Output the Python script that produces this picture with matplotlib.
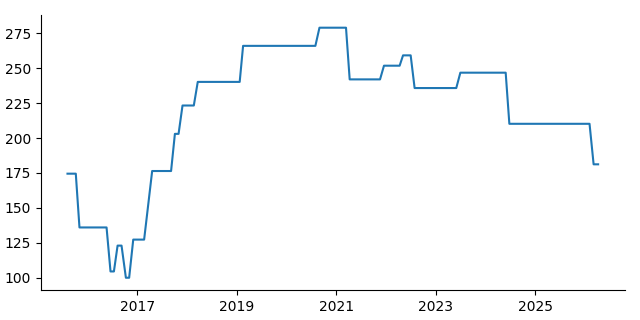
import pandas as pd
import matplotlib
matplotlib.use("Agg")
import matplotlib.pyplot as plt
import matplotlib.dates as mdates

# corner points (date, value)
dates = [
    "2015-08-07", "2015-10-07", "2015-11-03", "2016-05-20", "2016-06-18",
    "2016-07-13", "2016-08-09", "2016-09-07", "2016-10-09", "2016-11-02",
    "2016-12-02", "2017-02-20", "2017-04-20", "2017-09-06", "2017-10-04",
    "2017-10-31", "2017-11-29", "2018-02-20", "2018-03-21", "2019-01-23",
    "2019-02-17", "2020-08-01", "2020-08-31", "2021-03-14", "2021-04-10",
    "2021-11-19", "2021-12-18", "2022-04-12", "2022-05-07", "2022-07-02",
    "2022-07-31", "2023-06-02", "2023-07-02", "2024-05-30", "2024-06-26",
    "2026-02-05", "2026-03-07", "2026-04-09",
]
values = [
    174.5, 174.5, 136.0, 136.0, 104.5,
    104.5, 123.0, 123.0, 100.0, 100.0,
    127.3, 127.3, 176.4, 176.4, 203.0,
    203.0, 223.3, 223.3, 240.2, 240.2,
    266.0, 266.0, 279.0, 279.0, 242.0,
    242.0, 251.8, 251.8, 259.2, 259.2,
    235.8, 235.8, 246.8, 246.8, 210.2,
    210.2, 181.2, 181.2,
]
tick_years = ["2017", "2019", "2021", "2023", "2025"]

s = pd.Series(values, index=pd.to_datetime(dates))

fig, ax = plt.subplots(figsize=(6.4, 3.2), dpi=100)
ax.plot(s.index, s.values, color="C0")

ax.set_xticks(pd.to_datetime(tick_years))
ax.xaxis.set_major_formatter(mdates.DateFormatter("%Y"))

ax.spines["top"].set_visible(False)
ax.spines["right"].set_visible(False)

fig.subplots_adjust(left=0.064, right=0.976, bottom=0.093, top=0.9525)
fig.savefig("out.png")
